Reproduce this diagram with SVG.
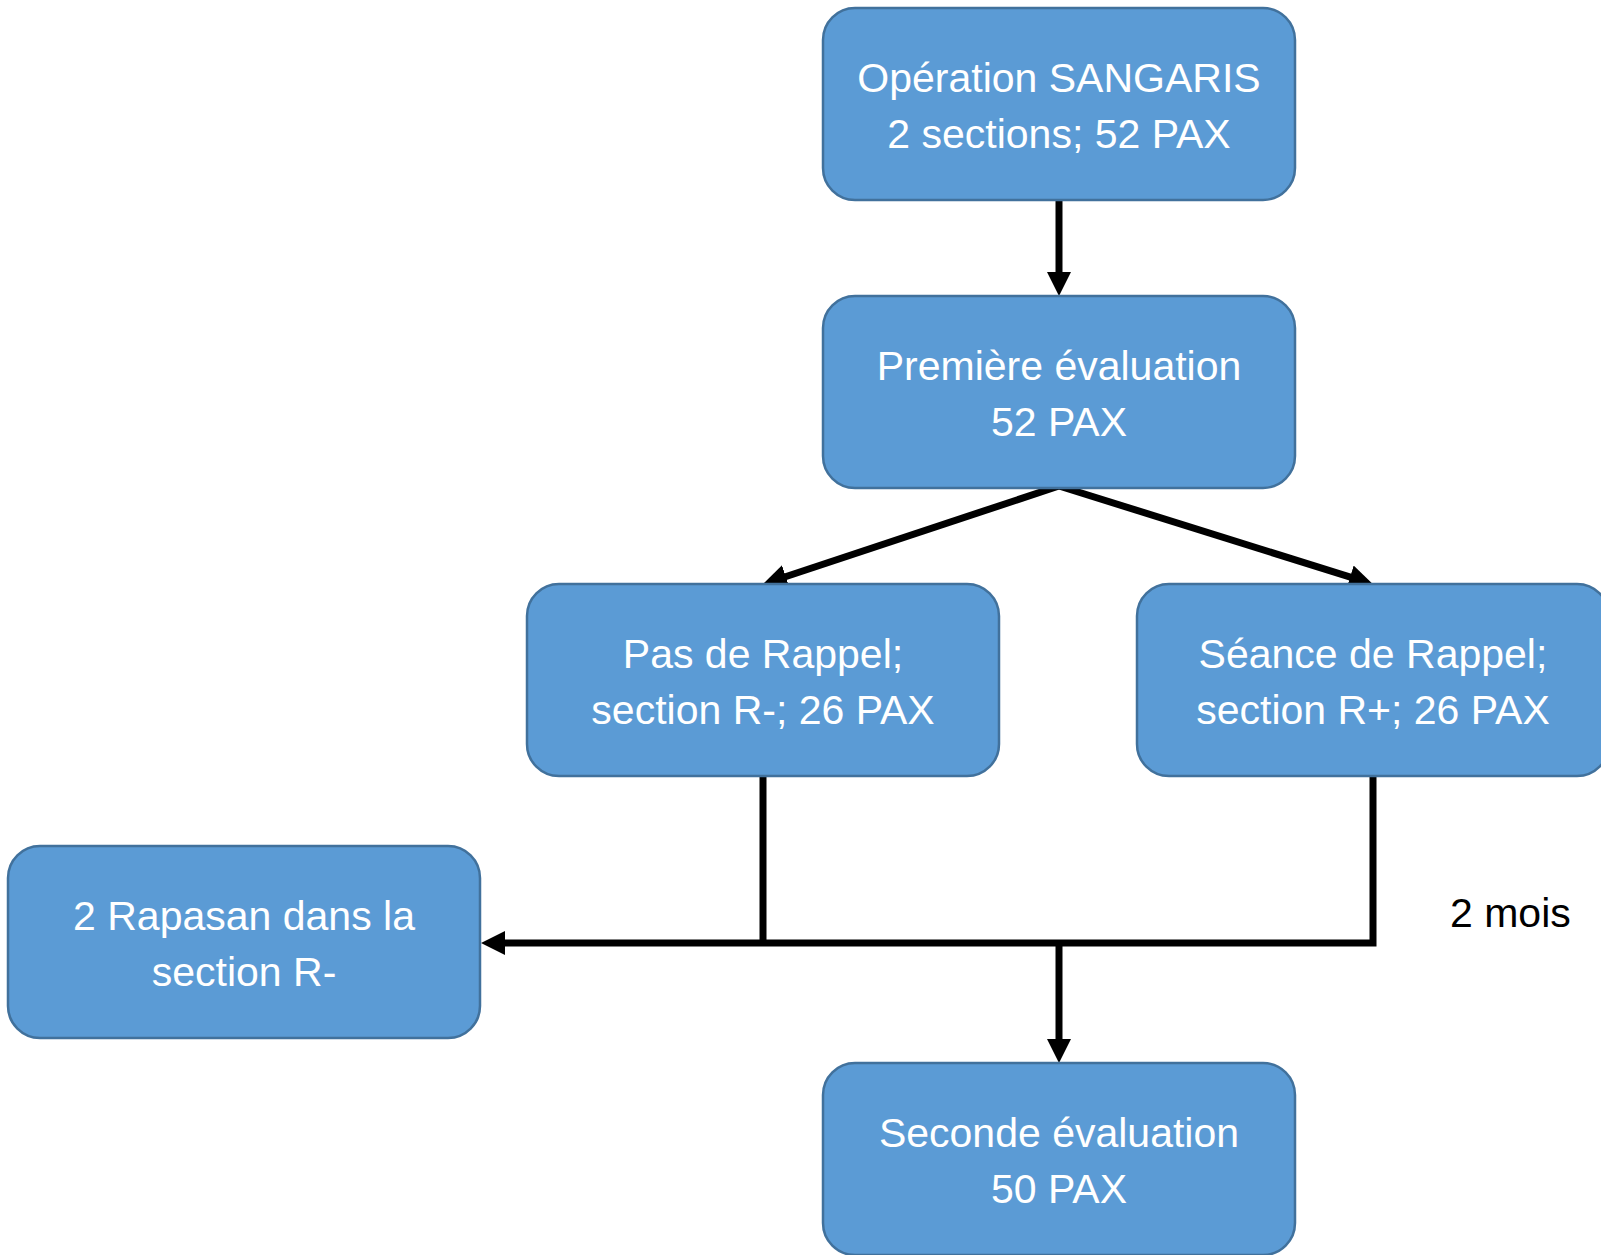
<svg xmlns="http://www.w3.org/2000/svg" width="1601" height="1255" viewBox="0 0 1601 1255">
<style>
.box{fill:#5B9BD5;stroke:#41719C;stroke-width:2.5}
.t{font-family:"Liberation Sans",Arial,sans-serif;font-size:41px;fill:#FFFFFF;text-anchor:middle}
.lbl{font-family:"Liberation Sans",Arial,sans-serif;font-size:41px;fill:#000000}
.c{fill:none;stroke:#000000;stroke-width:7}
</style>
<defs>
<marker id="ah" viewBox="0 -12 24 24" refX="2" refY="0" markerWidth="24" markerHeight="24" markerUnits="userSpaceOnUse" orient="auto">
<path d="M0,-12 L24,0 L0,12 z" fill="#000000"/>
</marker>
</defs>
<rect width="1601" height="1255" fill="#FFFFFF"/>
<g id="connectors">
<line class="c" x1="1059" y1="200" x2="1059" y2="274" marker-end="url(#ah)"/>
<line class="c" x1="1059" y1="486" x2="783.9" y2="577.2" marker-end="url(#ah)"/>
<line class="c" x1="1059" y1="486" x2="1352" y2="577.6" marker-end="url(#ah)"/>
<polyline class="c" points="763,776 763,943"/>
<polyline class="c" points="1373,776 1373,943 503,943" marker-end="url(#ah)"/>
<line class="c" x1="1059" y1="943" x2="1059" y2="1041" marker-end="url(#ah)"/>
</g>
<g id="n1">
<rect class="box" x="823" y="8" width="472" height="192" rx="32"/>
<text class="t" x="1059" y="92">Opération SANGARIS</text>
<text class="t" x="1059" y="148">2 sections; 52 PAX</text>
</g>
<g id="n2">
<rect class="box" x="823" y="296" width="472" height="192" rx="32"/>
<text class="t" x="1059" y="380">Première évaluation</text>
<text class="t" x="1059" y="436">52 PAX</text>
</g>
<g id="n3">
<rect class="box" x="527" y="584" width="472" height="192" rx="32"/>
<text class="t" x="763" y="668">Pas de Rappel;</text>
<text class="t" x="763" y="724">section R-; 26 PAX</text>
</g>
<g id="n4">
<rect class="box" x="1137" y="584" width="472" height="192" rx="32"/>
<text class="t" x="1373" y="668">Séance de Rappel;</text>
<text class="t" x="1373" y="724">section R+; 26 PAX</text>
</g>
<g id="n5">
<rect class="box" x="8" y="846" width="472" height="192" rx="32"/>
<text class="t" x="244" y="930">2 Rapasan dans la</text>
<text class="t" x="244" y="986">section R-</text>
</g>
<g id="n6">
<rect class="box" x="823" y="1063" width="472" height="192" rx="32"/>
<text class="t" x="1059" y="1147">Seconde évaluation</text>
<text class="t" x="1059" y="1203">50 PAX</text>
</g>
<g id="label">
<text class="lbl" x="1450" y="927">2 mois</text>
</g>
</svg>
